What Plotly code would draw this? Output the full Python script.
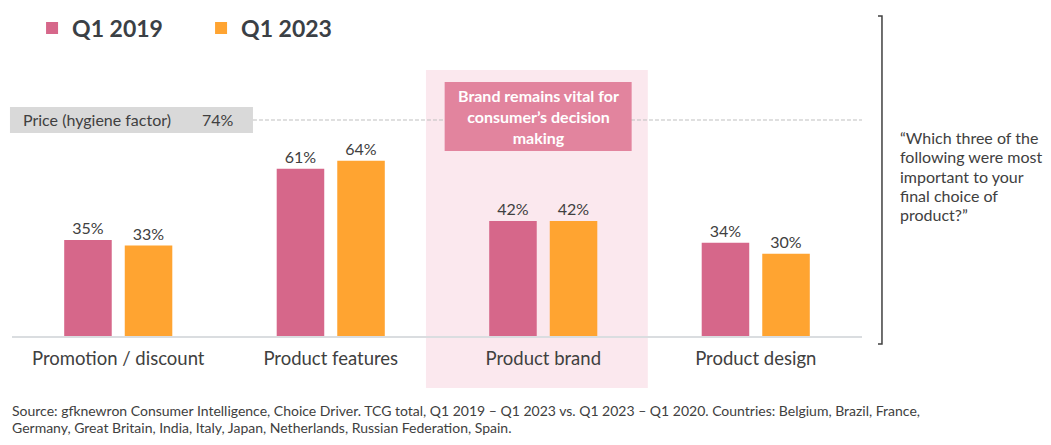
import plotly.graph_objects as go

categories = ["Promotion / discount", "Product features", "Product brand", "Product design"]
q1_2019 = [35, 61, 42, 34]
q1_2023 = [33, 64, 42, 30]
series_names = ["Q1 2019", "Q1 2023"]
price_label = "Price (hygiene factor)"
price_value = 74
callout_text = "Brand remains vital for<br>consumer’s decision<br>making"
question_lines = ["“Which three of the", "following were most", "important to your",
                  "final choice of", "product?”"]
source_lines = ["Source: gfknewron Consumer Intelligence, Choice Driver. TCG total, Q1 2019 – Q1 2023 vs. "
                "Q1 2023 – Q1 2020. Countries: Belgium, Brazil, France,",
                "Germany, Great Britain, India, Italy, Japan, Netherlands, Russian Federation, Spain."]

PINK = "#D6678A"
ORANGE = "#FFA431"
TEXT = "#404040"
FONT = "Lato"
PLOT_H = 274       # plot area height in px (used to place free text lines)
PLOT_BOTTOM = 336  # px from top of the page

fig = go.Figure()
for name, vals, col in [(series_names[0], q1_2019, PINK), (series_names[1], q1_2023, ORANGE)]:
    fig.add_trace(go.Bar(
        x=categories, y=vals, name=name, marker=dict(color=col, line=dict(width=0)),
        text=[f"{v}%" for v in vals], textposition="outside",
        textfont=dict(family=FONT, size=16, color=TEXT), cliponaxis=False,
    ))

# invisible trace on secondary axis to host the price reference line
fig.add_trace(go.Scatter(x=[categories[0]], y=[price_value], yaxis="y2", mode="markers",
                         marker=dict(opacity=0), showlegend=False, hoverinfo="skip"))

fig.update_layout(
    width=1051, height=445,
    margin=dict(l=12, r=189, t=62, b=109, autoexpand=False),
    paper_bgcolor="white", plot_bgcolor="rgba(0,0,0,0)",
    font=dict(family=FONT, color=TEXT),
    barmode="group", bargap=0.43, bargroupgap=0.215,
    showlegend=True,
    legend=dict(orientation="h", x=0.0236, xanchor="left", y=1.124, yanchor="middle",
                font=dict(family=FONT, size=23, color="#3B4045", weight="bold"),
                entrywidth=124, itemwidth=30, bgcolor="rgba(0,0,0,0)"),
    xaxis=dict(showline=True, linecolor="#DADDE0", linewidth=2, ticks="", showgrid=False,
               tickfont=dict(family=FONT, size=18.5, color=TEXT), range=[-0.5, 3.5],
               fixedrange=True, automargin=False, ticklabelstandoff=5),
    yaxis=dict(range=[0, 100], visible=False, showgrid=False, zeroline=False),
    yaxis2=dict(range=[0, price_value * 274 / 216], overlaying="y", visible=False,
                showgrid=False, zeroline=False),
)

shapes = []
# highlight background behind Product brand
shapes.append(dict(type="rect", xref="paper", yref="paper", x0=0.487, x1=0.748, y0=-0.19, y1=0.971,
                   fillcolor="#FBE8EE", line=dict(width=0), layer="below"))
# price box
shapes.append(dict(type="rect", xref="paper", yref="paper", x0=-0.0024, x1=0.2835, y0=0.741, y1=0.836,
                   fillcolor="#D9D9D9", line=dict(width=0), layer="below"))
# price dashed line
shapes.append(dict(type="line", xref="paper", yref="y2", x0=0.2835, x1=1.0, y0=price_value, y1=price_value,
                   line=dict(color="#BFBFBF", width=1, dash="4px,2px"), layer="below"))
# callout box
shapes.append(dict(type="rect", xref="paper", yref="paper", x0=0.509, x1=0.729, y0=0.675, y1=0.927,
                   fillcolor="#E2849E", line=dict(width=0), layer="above"))
# bracket on the right
shapes.append(dict(type="path", xref="paper", yref="paper",
                   path="M 1.0188 1.168 L 1.0235 1.168 L 1.0235 -0.029 L 1.0188 -0.029",
                   line=dict(color=TEXT, width=1.5)))
fig.update_layout(shapes=shapes)

ann = []
ann.append(dict(xref="paper", yref="paper", x=0.0106, y=0.7885, xanchor="left", yanchor="middle",
                text=price_label, showarrow=False, font=dict(family=FONT, size=16, color=TEXT)))
ann.append(dict(xref="paper", yref="paper", x=0.242, y=0.7885, xanchor="center", yanchor="middle",
                text=f"{price_value}%", showarrow=False, font=dict(family=FONT, size=16, color=TEXT)))
ann.append(dict(xref="paper", yref="paper", x=0.619, y=0.801, xanchor="center", yanchor="middle",
                text=callout_text, showarrow=False, align="center",
                font=dict(family=FONT, size=16, color="white", weight="bold")))
for i, line in enumerate(question_lines):
    ann.append(dict(xref="paper", yref="paper", x=1.042,
                    y=(PLOT_BOTTOM - (137 + 19.5 * i)) / PLOT_H,
                    xanchor="left", yanchor="middle", text=line, showarrow=False, align="left",
                    font=dict(family=FONT, size=16, color=TEXT)))
for i, line in enumerate(source_lines):
    ann.append(dict(xref="paper", yref="paper", x=-0.0024,
                    y=(PLOT_BOTTOM - (410 + 17 * i)) / PLOT_H,
                    xanchor="left", yanchor="middle", text=line, showarrow=False, align="left",
                    font=dict(family=FONT, size=14, color=TEXT)))
fig.update_layout(annotations=ann)

fig.write_html("out.html", post_script="document.body.style.margin='0';",
               config={"displayModeBar": False})
